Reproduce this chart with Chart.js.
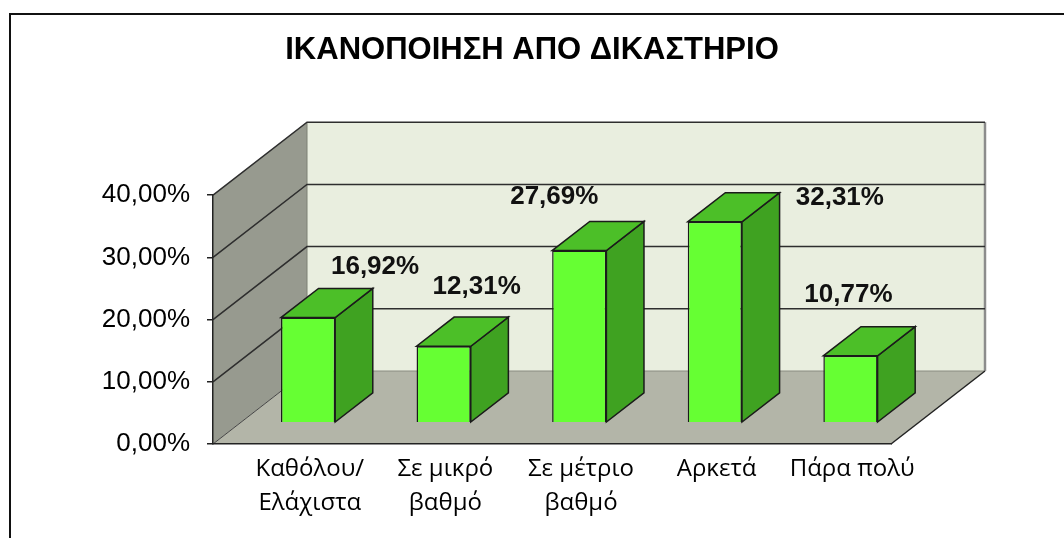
<!DOCTYPE html>
<html>
<head>
<meta charset="utf-8">
<script src="https://cdn.jsdelivr.net/npm/chart.js@4.4.1/dist/chart.umd.min.js"></script>
<style>
    html, body { margin: 0; padding: 0; background: #fff; }
    #wrap { width: 1064px; height: 538px; }
</style>
</head>
<body>
<div id="wrap"><canvas id="courtChart"></canvas></div>
<script>
const categories = [['Καθόλου/', 'Ελάχιστα'], ['Σε μικρό', 'βαθμό'], ['Σε μέτριο', 'βαθμό'], 'Αρκετά', 'Πάρα πολύ'];
const percentages = [16.92, 12.31, 27.69, 32.31, 10.77];
const yTicks = [0, 10, 20, 30, 40];

// 3D look: full depth of the box and where the bars sit inside it (0 = front, 1 = back wall)
const depth = { dx: 94, dy: -73 };
const barFront = 0.29;
const barBack = 0.69;

// value labels float at odd spots above each bar, so each one gets its own nudge
const labelNudge = [[67, -51], [33, -59], [-25, -54], [125, -24], [-2, -61]];

const fmt = v => v.toFixed(2).replace('.', ',') + '%';

function poly(ctx, pts, fill, stroke, lw) {
    ctx.beginPath();
    ctx.moveTo(pts[0][0], pts[0][1]);
    for (let i = 1; i < pts.length; i++) ctx.lineTo(pts[i][0], pts[i][1]);
    ctx.closePath();
    if (fill) { ctx.fillStyle = fill; ctx.fill(); }
    if (stroke) { ctx.strokeStyle = stroke; ctx.lineWidth = lw || 1; ctx.stroke(); }
}

function line(ctx, x1, y1, x2, y2, color, lw) {
    ctx.beginPath();
    ctx.moveTo(x1, y1);
    ctx.lineTo(x2, y2);
    ctx.strokeStyle = color;
    ctx.lineWidth = lw;
    ctx.stroke();
}

const box3d = {
    id: 'box3d',
    beforeDraw(chart) {
        const ctx = chart.ctx;
        const ys = chart.scales.y;
        const xs = chart.scales.x;
        const L = xs.left, R = xs.right;
        const top = ys.getPixelForValue(40), bot = ys.getPixelForValue(0);
        const dx = depth.dx, dy = depth.dy;
        ctx.save();

        // outer frame
        ctx.strokeStyle = '#111';
        ctx.lineWidth = 2;
        ctx.strokeRect(10, 14, 1100, 600);

        // side wall, back wall, floor
        poly(ctx, [[L, bot], [L, top], [L + dx, top + dy], [L + dx, bot + dy]], '#979a8f');
        poly(ctx, [[L + dx, top + dy], [R + dx, top + dy], [R + dx, bot + dy], [L + dx, bot + dy]], '#e9eedf');
        poly(ctx, [[L, bot], [R, bot], [R + dx, bot + dy], [L + dx, bot + dy]], '#b3b5a8');

        line(ctx, L + dx, top + dy, L + dx, bot + dy, '#7d8075', 1);
        line(ctx, L + dx, bot + dy, R + dx, bot + dy, '#8a8c80', 1);
        line(ctx, L, bot, L + dx, bot + dy, '#444', 1);
        line(ctx, R + dx, top + dy, R + dx, bot + dy, '#8c8c8c', 2.5);
        line(ctx, R, bot, R + dx, bot + dy, '#222', 1.5);

        // gridlines wrap round the side wall and across the back wall
        yTicks.filter(v => v > 0).forEach(v => {
            const y = ys.getPixelForValue(v);
            ctx.beginPath();
            ctx.moveTo(L, y);
            ctx.lineTo(L + dx, y + dy);
            ctx.lineTo(R + dx, y + dy);
            ctx.strokeStyle = '#2e2e2e';
            ctx.lineWidth = 1.5;
            ctx.stroke();
        });
        ctx.restore();
    },
    beforeDatasetDraw(chart, args) {
        const ctx = chart.ctx;
        const fx = depth.dx * barFront, fy = depth.dy * barFront;
        const bx = depth.dx * (barBack - barFront), by = depth.dy * (barBack - barFront);
        ctx.save();
        args.meta.data.forEach(bar => {
            const l = bar.x - bar.width / 2 + fx, r = bar.x + bar.width / 2 + fx;
            const t = bar.y + fy, b = bar.base + fy;
            poly(ctx, [[r, t], [r + bx, t + by], [r + bx, b + by], [r, b]], '#3fa221', '#1b1b1b', 1.5);
            poly(ctx, [[l, t], [r, t], [r + bx, t + by], [l + bx, t + by]], '#4cbf28', '#1b1b1b', 1.5);
        });
        ctx.restore();
        // front faces are drawn by the bar controller, pushed back into the box
        ctx.save();
        ctx.translate(fx, fy);
    },
    afterDatasetDraw(chart) {
        chart.ctx.restore();
    },
    afterDatasetsDraw(chart) {
        const ctx = chart.ctx;
        const meta = chart.getDatasetMeta(0);
        const fx = depth.dx * barFront, fy = depth.dy * barFront;
        ctx.save();
        ctx.font = 'bold 26px "Liberation Sans", Arial, sans-serif';
        ctx.fillStyle = '#111';
        ctx.textAlign = 'center';
        ctx.textBaseline = 'middle';
        meta.data.forEach((bar, i) => {
            ctx.fillText(fmt(percentages[i]), bar.x + fx + labelNudge[i][0], bar.y + fy + labelNudge[i][1]);
        });
        ctx.restore();
    }
};

new Chart(document.getElementById('courtChart'), {
    type: 'bar',
    data: {
        labels: categories,
        datasets: [{
            data: percentages,
            backgroundColor: '#66ff33',
            borderColor: '#1b1b1b',
            borderWidth: 1.5,
            barPercentage: 0.4,
            categoryPercentage: 1,
            clip: false
        }]
    },
    options: {
        responsive: true,
        maintainAspectRatio: false,
        devicePixelRatio: 1,
        animation: false,
        layout: { padding: { top: 14, left: 10, right: 10, bottom: 0 } },
        plugins: {
            legend: { display: false },
            tooltip: { enabled: false },
            title: {
                display: true,
                text: 'ΙΚΑΝΟΠΟΙΗΣΗ ΑΠΟ ΔΙΚΑΣΤΗΡΙΟ',
                color: '#000',
                font: { family: '"Liberation Sans", Arial, sans-serif', size: 31, weight: 'bold' },
                padding: { top: 18, bottom: 126 }
            }
        },
        scales: {
            x: {
                grid: { display: false, drawTicks: false },
                border: { display: true, color: '#222', width: 1.5 },
                afterFit: s => { s.height = 94; },
                ticks: {
                    labelOffset: 29,
                    padding: 8,
                    maxRotation: 0,
                    autoSkip: false,
                    color: '#000',
                    font: { family: '"Open Sans", sans-serif', size: 24, lineHeight: 1.42 }
                }
            },
            y: {
                min: 0,
                max: 40,
                afterBuildTicks: s => { s.ticks = yTicks.map(v => ({ value: v })); },
                afterFit: s => { s.width = 203; },
                grid: { drawOnChartArea: false, drawTicks: true, tickLength: 6, color: '#222', lineWidth: 1.5 },
                border: { display: true, color: '#222', width: 1.5 },
                ticks: {
                    padding: 17,
                    color: '#000',
                    font: { family: '"Liberation Sans", Arial, sans-serif', size: 26 },
                    callback: v => fmt(v)
                }
            },
            // empty axis on the right keeps room for the depth of the box
            spacer: {
                type: 'linear',
                position: 'right',
                grid: { display: false, drawTicks: false },
                border: { display: false },
                ticks: { display: false },
                afterFit: s => { s.width = 163; }
            }
        }
    },
    plugins: [box3d]
});
</script>
</body>
</html>
